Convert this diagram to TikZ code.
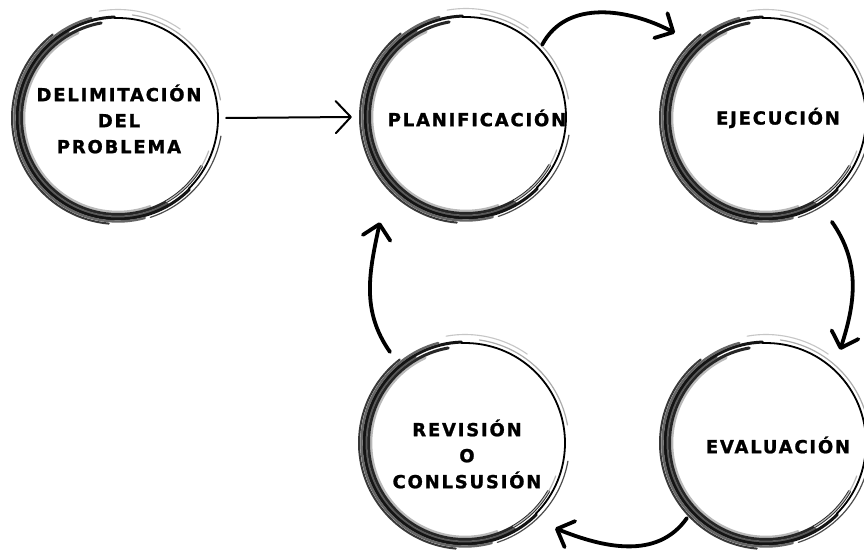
\documentclass[tikz,border=0pt]{standalone}
\usepackage{fontspec}
\newfontfamily\lblfont{DejaVu Sans}[LetterSpace=10, BoldFeatures={FakeBold=1.2}]
\usetikzlibrary{arrows.meta,calc}
\tikzset{
  ringnode/.style={circle, minimum size=216pt, inner sep=0pt},
  lbl/.style={font=\lblfont\bfseries\fontsize{18}{26}\selectfont, align=center, text=black, inner sep=0pt},
  flow/.style={line width=3.8pt, line cap=round, -{Straight Barb[length=14pt,width=28pt,line width=3.8pt,round]}},
  flowthin/.style={line width=2pt, line cap=round, -{Straight Barb[length=15pt,width=32pt,line width=2pt,round]}},
  strand/.style={line cap=round}
}
\newcommand\strandarc[5]{% radius, start, end, colour, width
  \draw[strand, #4, line width=#5] (#2:#1) arc[start angle=#2, end angle=#3, radius=#1];}
\newcommand\brushring[1]{%
  \begin{scope}[shift={(#1.center)}]
    \strandarc{94}{115}{290}{gray!55}{2.6pt}
    \strandarc{96.5}{100}{330}{black!85}{3pt}
    \strandarc{99}{120}{300}{black!65}{2.6pt}
    \strandarc{101}{92}{315}{black!92}{3pt}
    \strandarc{103.5}{105}{285}{black!60}{2.4pt}
    \strandarc{106}{128}{265}{black!78}{2pt}
    \strandarc{100}{-45}{92}{black}{1.8pt}
    \strandarc{104}{10}{82}{gray!65}{1.2pt}
    \strandarc{108.5}{55}{100}{gray!45}{1.1pt}
    \strandarc{104.5}{-72}{-10}{black!70}{1.2pt}
    \strandarc{96.5}{-60}{-20}{gray!55}{1.2pt}
  \end{scope}}
\begin{document}
\begin{tikzpicture}[x=1pt, y=1pt]
\useasboundingbox (0,0) rectangle (864,552);
\clip (0,0) rectangle (864,552);
\fill[white] (0,0) rectangle (864,552);
% ring nodes
\node[ringnode] (delim) at (118,434) {};
\node[ringnode] (plan)  at (466,435) {};
\node[ringnode] (ejec)  at (766,434) {};
\node[ringnode] (eval)  at (766,109) {};
\node[ringnode] (rev)   at (465,109) {};
\brushring{delim}
\brushring{plan}
\brushring{ejec}
\brushring{eval}
\brushring{rev}
% labels
\node[lbl] (delimT) at (119,433) {DELIMITACIÓN\\DEL\\PROBLEMA};
\node[lbl] (planT)  at (477,434) {PLANIFICACIÓN};
\node[lbl] (ejecT)  at (778,434) {EJECUCIÓN};
\node[lbl] (evalT)  at (778,107) {EVALUACIÓN};
\node[lbl] (revT)   at (467,98)  {REVISIÓN\\O\\CONLSUSIÓN};
% connectors
\draw[flowthin] (delim.east) -- ([xshift=-6pt]plan.west);
\draw[flow] ($(plan.center)+(43.5:105)$) to[out=62, in=152] ($(ejec.center)+(137:124.5)$);
\draw[flow] ($(ejec.center)+(-57.6:123)$) to[out=-55, in=72] ($(eval.center)+(51.5:119)$);
\draw[flow] ($(eval.center)+(223.5:109)$) to[out=-125, in=-22] ($(rev.center)+(-43.4:124)$);
\draw[flow] ($(rev.center)+(129.5:118)$) to[out=125, in=-102] ($(plan.center)+(230.7:136)$);
\end{tikzpicture}
\end{document}
